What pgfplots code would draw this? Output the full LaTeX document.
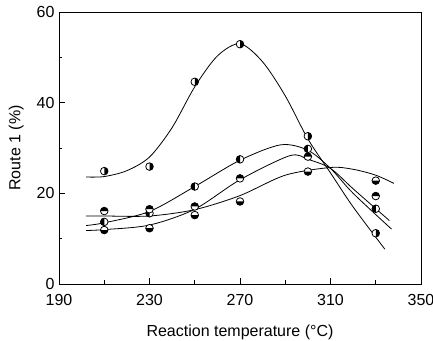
\documentclass[border=0pt]{standalone}
\usepackage{fontspec}
\setmainfont{Liberation Sans}
\usepackage{pgfplots}
\pgfplotsset{compat=1.18}

% Circle marks with one half filled black; #2 is the angle where the black arc starts
\newcommand\declarehalfmark[2]{%
  \pgfdeclareplotmark{#1}{%
    \pgfpathcircle{\pgfpointorigin}{\pgfplotmarksize}%
    \pgfsetfillcolor{white}\pgfusepathqfill
    \pgfpathmoveto{\pgfpointpolar{#2}{\pgfplotmarksize}}%
    \pgfpatharc{#2}{#2+180}{\pgfplotmarksize}%
    \pgfpathclose
    \pgfsetfillcolor{black}\pgfusepathqfill
    \pgfpathcircle{\pgfpointorigin}{\pgfplotmarksize}%
    \pgfusepathqstroke
  }%
}
\declarehalfmark{halfright}{-90}
\declarehalfmark{halfleft}{90}
\declarehalfmark{halftop}{0}
\declarehalfmark{halfbottom}{180}

\begin{document}
\begin{tikzpicture}
\begin{axis}[
  name=ax,
  scale only axis,
  width=362pt, height=272pt,
  xmin=190, xmax=350, ymin=0, ymax=60,
  xtick={190,230,270,310,350},
  ytick={0,20,40,60},
  minor x tick num=1, minor y tick num=1,
  tick align=inside, tick pos=left,
  major tick length=6pt, minor tick length=3.5pt,
  axis line style={line width=0.9pt},
  every tick/.style={line width=0.9pt, black},
  /pgf/number format/assume math mode=true,
  /pgf/number format/1000 sep={},
  tick label style={font=\fontsize{16}{19}\selectfont},
  xticklabel style={yshift=-7pt},
  yticklabel style={xshift=-1pt},
  label style={font=\fontsize{16}{19}\selectfont},
  xlabel={Reaction temperature (\textdegree C)},
  ylabel={Route 1 (\%)},
  xlabel style={yshift=-12pt},
  ylabel style={yshift=6pt},
  clip=false,
]
% fitted curves
\addplot[smooth, line width=0.8pt] coordinates {
  (202,23.6) (210,23.7) (220,25) (230,28) (240,34.5) (250,43.5) (260,50.3)
  (270,53) (280,49) (290,41.5) (300,32) (310,24.5) (320,17) (334,7.7)};
\addplot[smooth, line width=0.8pt] coordinates {
  (202,12.9) (210,13.5) (230,16) (250,21.5) (270,27.3) (288,30.7) (300,29.5)
  (310,25.5) (320,20) (337,12.1)};
\addplot[smooth, line width=0.8pt] coordinates {
  (202,11.8) (210,12) (230,13) (250,16.5) (270,23) (292,28.3) (300,27.5)
  (310,25.5) (320,21) (336,14)};
\addplot[smooth, line width=0.8pt] coordinates {
  (202,15) (210,15) (230,15) (250,16.4) (270,19.5) (290,24) (310,25.7)
  (320,25.3) (330,24) (338,22.2)};
% measured points
\addplot[only marks, mark=halfright, mark size=3.8pt, line width=0.8pt] coordinates {
  (210,24.9) (230,25.9) (250,44.6) (270,52.9) (300,32.6) (330,11.2)};
\addplot[only marks, mark=halfleft, mark size=3.8pt, line width=0.8pt] coordinates {
  (210,13.7) (230,15.6) (250,21.5) (270,27.5) (300,29.8) (330,16.6)};
\addplot[only marks, mark=halftop, mark size=3.8pt, line width=0.8pt] coordinates {
  (210,16.1) (230,16.5) (250,17.1) (270,23.3) (300,28.1) (330,19.4)};
\addplot[only marks, mark=halfbottom, mark size=3.8pt, line width=0.8pt] coordinates {
  (210,11.9) (230,12.3) (250,15.2) (270,18.2) (300,24.8) (330,22.8)};
\end{axis}
\pgfresetboundingbox
\path ([shift={(-59pt,-57pt)}]ax.south west) rectangle ([shift={(12pt,12pt)}]ax.north east);
\end{tikzpicture}
\end{document}
